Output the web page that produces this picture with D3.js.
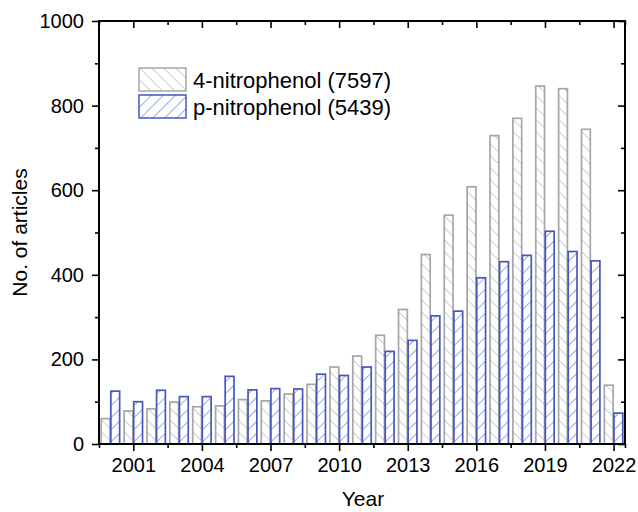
<!DOCTYPE html>
<html>
<head>
<meta charset="utf-8">
<script src="https://cdn.jsdelivr.net/npm/d3@7"></script>
<style>
  body { margin: 0; background: #fff; }
  text { font-family: "Liberation Sans", Arial, sans-serif; fill: #000; }
</style>
</head>
<body>
<svg id="chart"></svg>
<script>
// data
var years = d3.range(2000, 2023);
var fourNitro = [60, 78, 83, 99, 88, 90, 105, 102, 118, 141, 182, 208, 257, 318, 448, 541, 608, 729, 770, 846, 840, 744, 139];
var pNitro = [125, 100, 127, 112, 112, 160, 128, 131, 130, 165, 162, 182, 219, 245, 303, 314, 393, 431, 446, 503, 455, 433, 73];
var seriesNames = ['4-nitrophenol (7597)', 'p-nitrophenol (5439)'];
var xMajorTicks = [2001, 2004, 2007, 2010, 2013, 2016, 2019, 2022];
var yMajorTicks = [0, 200, 400, 600, 800, 1000];

var svgWidth = 638,
    svgHeight = 512,
    margin = {top: 21, right: 13, bottom: 68, left: 99},
    width = svgWidth - margin.left - margin.right,
    height = svgHeight - margin.top - margin.bottom;

var svg = d3.select('#chart')
    .attr('width', svgWidth)
    .attr('height', svgHeight);

var keys = ['four', 'p'];
var strokeCol = {four: '#a6a6a6', p: '#4657bd'};
var hatchCol = {four: '#a3a3a3', p: '#4e60c2'};

// hatch patterns
var defs = svg.append('defs');
keys.forEach(function(k) {
    var pat = defs.append('pattern')
        .attr('id', 'hatch-' + k)
        .attr('patternUnits', 'userSpaceOnUse')
        .attr('width', 8.5)
        .attr('height', 8.5)
        .attr('patternTransform', k === 'four' ? 'rotate(-45)' : 'rotate(45)');
    pat.append('line')
        .attr('x1', 0).attr('y1', -1)
        .attr('x2', 0).attr('y2', 10)
        .attr('stroke', hatchCol[k])
        .attr('stroke-width', 1.1);
});

var data = years.map(function(y, i) {
    return {year: y, four: fourNitro[i], p: pNitro[i]};
});

var x = d3.scaleLinear()
    .domain([1999.5, 2022.5])
    .range([0, width]);

var yearW = x(1) - x(0);
var xSub = d3.scaleBand()
    .domain(keys)
    .range([-yearW * 0.42, yearW * 0.42]);

var y = d3.scaleLinear()
    .domain([0, 1000])
    .range([height, 0]);

var g = svg.append('g')
    .attr('transform', 'translate(' + margin.left + ',' + margin.top + ')');

// bars
var groups = g.selectAll('.year')
    .data(data)
    .enter().append('g')
    .attr('class', 'year')
    .attr('transform', function(d) { return 'translate(' + x(d.year) + ',0)'; });

groups.selectAll('rect')
    .data(function(d) { return keys.map(function(k) { return {key: k, value: d[k]}; }); })
    .enter().append('rect')
    .attr('x', function(d) { return xSub(d.key) + 0.4; })
    .attr('width', xSub.bandwidth() - 0.8)
    .attr('y', function(d) { return y(d.value); })
    .attr('height', function(d) { return height - y(d.value); })
    .attr('fill', function(d) { return 'url(#hatch-' + d.key + ')'; })
    .attr('stroke', function(d) { return strokeCol[d.key]; })
    .attr('stroke-width', 1.7);

// minor tick positions
var xMinor = xMajorTicks.map(function(t) { return t - 1.5; }).concat([2022.5]);
var yMinor = d3.range(100, 1000, 200);

function styleAxis(sel) {
    sel.select('.domain').remove();
    sel.selectAll('.tick line').attr('stroke', '#000').attr('stroke-width', 1.6);
    sel.selectAll('.tick text').style('font-size', '20px').style('font-family', '"Liberation Sans", Arial, sans-serif');
}

// bottom
var xAxis = g.append('g')
    .attr('transform', 'translate(0,' + height + ')')
    .call(d3.axisBottom(x).tickValues(xMajorTicks).tickFormat(d3.format('d')).tickSizeInner(7).tickSizeOuter(0).tickPadding(7));
styleAxis(xAxis);
g.append('g')
    .attr('transform', 'translate(0,' + height + ')')
    .call(d3.axisBottom(x).tickValues(xMinor).tickFormat('').tickSizeInner(4).tickSizeOuter(0))
    .call(styleAxis);

// top (inward)
g.append('g')
    .call(d3.axisBottom(x).tickValues(xMajorTicks).tickFormat('').tickSizeInner(7).tickSizeOuter(0))
    .call(styleAxis);
g.append('g')
    .call(d3.axisBottom(x).tickValues(xMinor).tickFormat('').tickSizeInner(4).tickSizeOuter(0))
    .call(styleAxis);

// left
var yAxis = g.append('g')
    .call(d3.axisLeft(y).tickValues(yMajorTicks).tickFormat(d3.format('d')).tickSizeInner(7).tickSizeOuter(0).tickPadding(8));
styleAxis(yAxis);
g.append('g')
    .call(d3.axisLeft(y).tickValues(yMinor).tickFormat('').tickSizeInner(4).tickSizeOuter(0))
    .call(styleAxis);

// right (inward)
g.append('g')
    .attr('transform', 'translate(' + width + ',0)')
    .call(d3.axisLeft(y).tickValues(yMajorTicks).tickFormat('').tickSizeInner(7).tickSizeOuter(0))
    .call(styleAxis);
g.append('g')
    .attr('transform', 'translate(' + width + ',0)')
    .call(d3.axisLeft(y).tickValues(yMinor).tickFormat('').tickSizeInner(4).tickSizeOuter(0))
    .call(styleAxis);

// frame
g.append('rect')
    .attr('x', 0).attr('y', 0)
    .attr('width', width).attr('height', height)
    .attr('fill', 'none')
    .attr('stroke', '#000')
    .attr('stroke-width', 2);

// axis titles
svg.append('text')
    .attr('x', margin.left + width / 2 + 1)
    .attr('y', 506)
    .attr('text-anchor', 'middle')
    .style('font-size', '21px')
    .text('Year');

svg.append('text')
    .attr('transform', 'translate(27,' + (margin.top + height / 2) + ') rotate(-90)')
    .attr('text-anchor', 'middle')
    .style('font-size', '21px')
    .text('No. of articles');

// legend
var legend = svg.append('g')
    .attr('transform', 'translate(139,68)');
keys.forEach(function(k, i) {
    var row = legend.append('g').attr('transform', 'translate(0,' + (i * 27) + ')');
    row.append('rect')
        .attr('width', 47).attr('height', 23)
        .attr('fill', 'url(#hatch-' + k + ')')
        .attr('stroke', strokeCol[k])
        .attr('stroke-width', 1.5);
    row.append('text')
        .attr('x', 54)
        .attr('y', 20)
        .style('font-size', '22px')
        .text(seriesNames[i]);
});
</script>
</body>
</html>
